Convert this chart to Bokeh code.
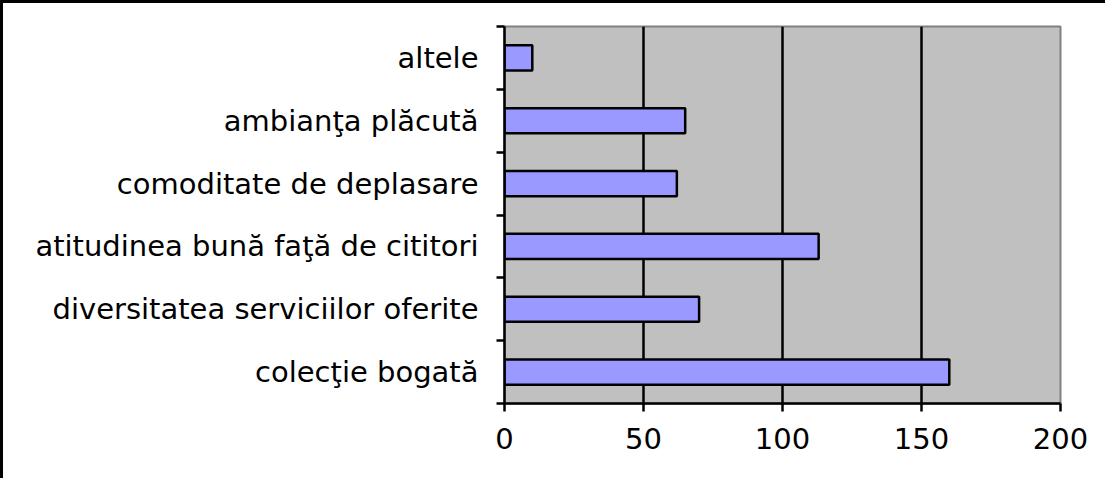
from bokeh.plotting import figure
from bokeh.models import FixedTicker, Range1d
from bokeh.embed import file_html
from bokeh.resources import INLINE

categories = ["colecţie bogată", "diversitatea serviciilor oferite",
              "atitudinea bună faţă de cititori", "comoditate de deplasare",
              "ambianţa plăcută", "altele"]
values = [160, 70, 113, 62, 65, 10]
x_ticks = [0, 50, 100, 150, 200]

ypos = [i + 0.5 for i in range(len(categories))]

p = figure(width=1105, height=478, output_backend="svg", toolbar_location=None,
           x_range=Range1d(0, 200), y_range=Range1d(0, len(categories)),
           min_border_left=501, min_border_top=23, min_border_right=48,
           min_border_bottom=78)
p.styles = {"border-left": "3px solid black", "border-top": "3px solid black"}
p.background_fill_color = "#C0C0C0"
p.border_fill_color = "white"
p.outline_line_color = "#808080"
p.outline_line_width = 2

p.hbar(y=ypos, right=values, left=0, height=0.4, fill_color="#9999FF",
       line_color="black", line_width=2.5)

font = "DejaVu Sans"
fsize = "29px"
p.xaxis.ticker = FixedTicker(ticks=x_ticks)
p.xaxis.major_tick_in = 0
p.xaxis.major_tick_out = 8
p.xaxis.minor_tick_line_color = None
p.xaxis.axis_line_width = 2.5
p.xaxis.major_tick_line_width = 2.5
p.xaxis.major_label_text_font = font
p.xaxis.major_label_text_font_size = fsize
p.xaxis.major_label_text_color = "black"
p.xaxis.major_label_standoff = 16

p.yaxis.ticker = FixedTicker(ticks=ypos, minor_ticks=list(range(len(categories) + 1)))
p.yaxis.major_label_overrides = {y: c for y, c in zip(ypos, categories)}
p.yaxis.major_tick_in = 0
p.yaxis.major_tick_out = 0
p.yaxis.minor_tick_in = 0
p.yaxis.minor_tick_out = 8
p.yaxis.minor_tick_line_width = 2.5
p.yaxis.minor_tick_line_color = "black"
p.yaxis.axis_line_width = 2.5
p.yaxis.major_label_text_font = font
p.yaxis.major_label_text_font_size = fsize
p.yaxis.major_label_text_color = "black"
p.yaxis.major_label_standoff = 18

p.xgrid.ticker = FixedTicker(ticks=[50, 100, 150])
p.xgrid.grid_line_color = "black"
p.xgrid.grid_line_width = 2.5
p.ygrid.grid_line_color = None

open("out.html", "w").write(file_html(p, INLINE))
